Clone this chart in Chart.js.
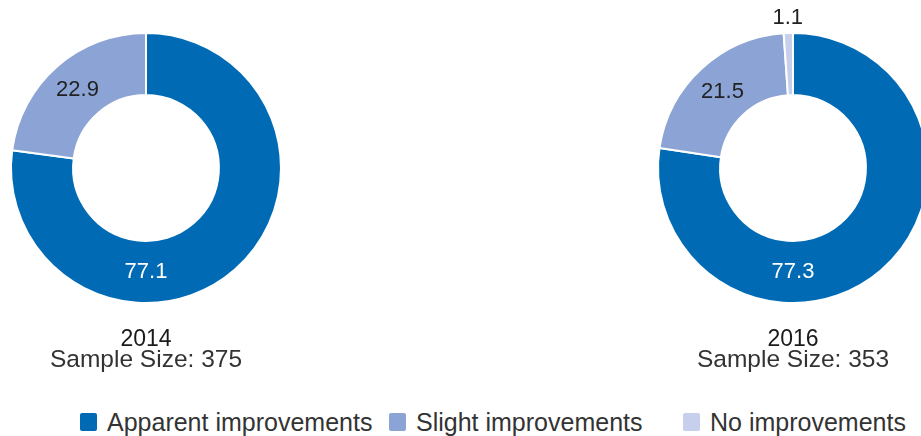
<!DOCTYPE html>
<html>
<head>
<meta charset="utf-8">
<script src="https://cdn.jsdelivr.net/npm/chart.js@4/dist/chart.umd.min.js"></script>
<style>
  html, body { margin: 0; padding: 0; background: #fff; overflow: hidden; }
  #wrap { position: relative; width: 921px; height: 436px; overflow: hidden;
          font-family: "Liberation Sans", Arial, sans-serif; }
  .donut { position: absolute; width: 340px; height: 340px; }
  .year { position: absolute; width: 300px; text-align: center; font-size: 23px;
          line-height: 23px; color: #1a1a1a; }
  .size { position: absolute; width: 300px; text-align: center; font-size: 24.5px;
          line-height: 24px; color: #333; }
  .leg { position: absolute; top: 410px; font-size: 25px; line-height: 25px; color: #333;
         white-space: nowrap; }
  .box { position: absolute; top: 413px; width: 17px; height: 18px; border-radius: 2px; }
</style>
</head>
<body>
<div id="wrap">
  <div class="donut" style="left:-24px; top:-2px;"><canvas id="c2014"></canvas></div>
  <div class="donut" style="left:623px; top:-2px;"><canvas id="c2016"></canvas></div>
  <div class="year" style="left:-4px; top:327px;">2014</div>
  <div class="size" style="left:-4px; top:347px;">Sample Size: 375</div>
  <div class="year" style="left:643px; top:327px;">2016</div>
  <div class="size" style="left:643px; top:347px;">Sample Size: 353</div>
  <div id="legend"></div>
</div>
<script>
const categories = ["Apparent improvements", "Slight improvements", "No improvements"];
const values2014 = [77.1, 22.9, 0];
const values2016 = [77.3, 21.5, 1.1];
const colors = ["#006bb4", "#8ba4d5", "#c6d0ec"];
const labelColors = ["#ffffff", "#222222", "#222222"];

// legend built from the same arrays
const legendX = [80, 389, 683];
const legend = document.getElementById("legend");
categories.forEach((name, i) => {
  const b = document.createElement("div");
  b.className = "box";
  b.style.left = legendX[i] + "px";
  b.style.background = colors[i];
  legend.appendChild(b);
  const t = document.createElement("div");
  t.className = "leg";
  t.style.left = (legendX[i] + 27) + "px";
  t.textContent = name;
  legend.appendChild(t);
});

// draws the value of each slice on the ring (or just outside if it's tiny)
const valueLabels = {
  id: "valueLabels",
  afterDatasetsDraw(chart) {
    const ctx = chart.ctx;
    const data = chart.data.datasets[0].data;
    chart.getDatasetMeta(0).data.forEach((arc, i) => {
      if (!data[i]) return;
      const p = arc.getProps(["x", "y", "startAngle", "endAngle", "innerRadius", "outerRadius"], true);
      let mid = (p.startAngle + p.endAngle) / 2;
      // big slices get their label at the bottom of the ring
      if (data[i] > 50 && p.startAngle <= Math.PI / 2 && p.endAngle >= Math.PI / 2) mid = Math.PI / 2;
      let r = (p.innerRadius + p.outerRadius) / 2;
      if (data[i] < 5) r = p.outerRadius + 15;
      ctx.save();
      ctx.font = "22px 'Liberation Sans', Arial, sans-serif";
      ctx.fillStyle = labelColors[i];
      ctx.textAlign = "center";
      ctx.textBaseline = "middle";
      ctx.fillText(data[i].toFixed(1), p.x + Math.cos(mid) * r, p.y + Math.sin(mid) * r);
      ctx.restore();
    });
  }
};

function makeDonut(id, values) {
  new Chart(document.getElementById(id), {
    type: "doughnut",
    data: {
      labels: categories,
      datasets: [{
        data: values,
        backgroundColor: colors,
        borderColor: "#ffffff",
        borderWidth: 2,
        hoverOffset: 0
      }]
    },
    options: {
      responsive: true,
      maintainAspectRatio: false,
      animation: false,
      cutout: "54%",
      layout: { padding: 34 },
      plugins: {
        legend: { display: false },
        tooltip: { enabled: false }
      }
    },
    plugins: [valueLabels]
  });
}

makeDonut("c2014", values2014);
makeDonut("c2016", values2016);
</script>
</body>
</html>
